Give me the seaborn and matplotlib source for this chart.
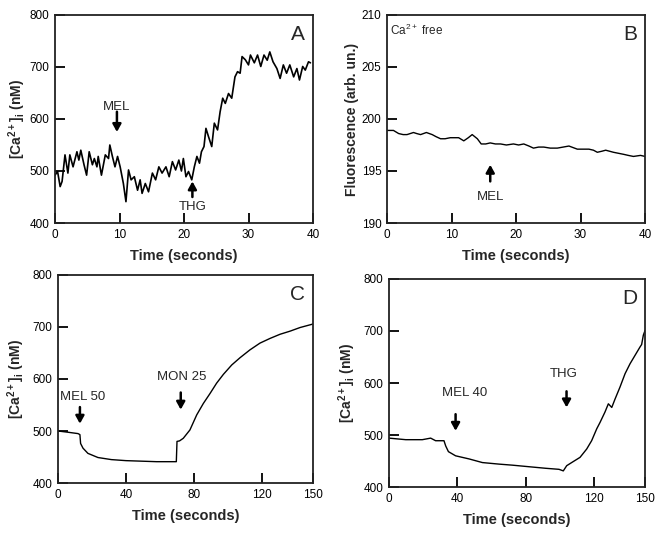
import matplotlib
matplotlib.use("Agg")
import matplotlib.pyplot as plt
import seaborn as sns

# =======================
# data
# =======================
# A - [Ca2+]i, MEL then THG
a_time = [0, 0.4, 0.8, 1.1, 1.55, 2.0, 2.3, 2.8, 3.4, 3.7, 4.0, 4.5, 4.9, 5.3, 5.8,
          6.1, 6.5, 6.7, 7.2, 7.8, 8.3, 8.5, 8.9, 9.3, 9.7, 10.1, 10.6, 11.0, 11.4,
          11.8, 12.3, 12.8, 13.2, 13.5, 14.0, 14.5, 15.1, 15.6, 16.1, 16.6, 17.2,
          17.7, 18.2, 18.7, 19.2, 19.6, 19.9, 20.3, 20.7, 21.2, 21.6, 22.0, 22.4,
          22.7, 23.1, 23.4, 23.8, 24.3, 24.7, 25.2, 25.6, 26.0, 26.4, 26.9, 27.4,
          27.9, 28.3, 28.7, 29.0, 29.5, 30.0, 30.3, 30.9, 31.4, 31.9, 32.4, 32.9,
          33.3, 33.8, 34.4, 34.9, 35.4, 35.9, 36.4, 37.0, 37.5, 37.9, 38.4, 38.8,
          39.3, 39.6]
a_ca = [492, 499, 470, 480, 531, 496, 531, 508, 537, 521, 540, 512, 492, 537, 512,
        524, 508, 528, 492, 531, 524, 550, 528, 508, 528, 508, 476, 441, 502,
        483, 489, 463, 483, 457, 476, 460, 496, 483, 508, 496, 508,
        489, 518, 502, 521, 500, 524, 489, 499, 483, 508, 528, 515,
        537, 547, 582, 566, 547, 592, 579, 614, 640, 630, 649, 640,
        681, 691, 688, 720, 714, 704, 723, 708, 723, 701, 723, 713,
        729, 710, 697, 678, 704, 688, 704, 681, 697, 675, 701, 694,
        710, 708]

# B - fluorescence in Ca2+ free medium
b_time = [0, 1.0, 1.8, 2.5, 3.1, 4.1, 4.6, 5.2, 6.1, 7.0, 7.6, 8.3, 9.0, 9.8, 10.5,
          11.1, 11.9, 12.6, 13.2, 14.0, 14.6, 15.3, 16.0, 16.8, 17.6, 18.5, 19.6,
          20.4, 21.2, 22.0, 22.7, 23.5, 24.3, 25.3, 26.4, 27.3, 28.2, 29.5, 30.4,
          31.3, 32.0, 32.6, 33.3, 33.9, 34.5, 35.1, 35.9, 36.7, 37.4, 38.2, 39.3, 40.0]
b_fluo = [198.9, 198.9, 198.6, 198.5, 198.5, 198.7, 198.6, 198.5, 198.7, 198.5, 198.3,
          198.1, 198.1, 198.2, 198.2, 198.2, 197.9, 198.2, 198.5, 198.1, 197.6, 197.6,
          197.7, 197.6, 197.6, 197.5, 197.6, 197.5, 197.6, 197.4, 197.2, 197.3, 197.3,
          197.2, 197.2, 197.3, 197.4, 197.1, 197.1, 197.1, 197.0, 196.8, 196.9, 197.0,
          196.9, 196.8, 196.7, 196.6, 196.5, 196.4, 196.5, 196.4]

# C - MEL 50 then MON 25
c_time = [0, 5, 11.8, 12.9, 13.3, 14.7, 17.6, 23.5, 31.4, 40, 49, 58, 69.6,
          70.0, 71.5, 73.7, 77.6, 81.6, 85.5, 89.4, 93.3, 97.3, 102.2, 107.1,
          112.9, 118.8, 124.7, 130.6, 136.5, 142.4, 149.2, 150.0]
c_ca = [500, 498, 495, 493, 476, 467, 457, 449, 445, 443, 442, 441, 441,
        480, 481, 486, 502, 531, 553, 572, 592, 609, 627, 641,
        656, 669, 678, 686, 692, 699, 705, 706]

# D - MEL 40 then THG
d_time = [0, 9.8, 19.5, 24.4, 27.3, 32.2, 33.2, 34.8, 39.0, 46.9, 54.7, 64.5, 72.3,
          82.0, 91.8, 99.6, 102.1, 104.1, 107.0, 111.9, 115.8, 118.7, 121.7, 123.6,
          126.5, 128.5, 130.5, 132.4, 135.3, 138.3, 141.2, 144.1, 147.0, 148.0,
          149.0, 150.0]
d_ca = [494, 491, 491, 494, 489, 489, 479, 468, 460, 454, 447, 444, 442,
        439, 436, 434, 431, 441, 447, 457, 473, 489, 512, 524,
        544, 560, 553, 569, 592, 618, 637, 653, 669, 674,
        692, 701]

# =======================
# style
# =======================
sns.set_style("ticks")
plt.rcParams["font.family"] = ["Liberation Sans", "DejaVu Sans"]
plt.rcParams["mathtext.fontset"] = "custom"
plt.rcParams["mathtext.rm"] = "Liberation Sans"
plt.rcParams["mathtext.bf"] = "Liberation Sans:bold"

ca_label = r"[Ca$^{\mathbf{2+}}$]$_{\mathbf{i}}$ (nM)"

fig = plt.figure(figsize=(6.65, 5.41), dpi=100)
ax_a = fig.add_axes([0.0827, 0.5878, 0.388, 0.3845])
ax_b = fig.add_axes([0.582, 0.5878, 0.388, 0.3845])
ax_c = fig.add_axes([0.0872, 0.1072, 0.3835, 0.3845])
ax_d = fig.add_axes([0.585, 0.0998, 0.385, 0.3845])


def arrow(ax, x, y_from, y_to):
    ax.annotate("", xy=(x, y_to), xytext=(x, y_from),
                arrowprops=dict(arrowstyle="-|>,head_length=0.45,head_width=0.25",
                                lw=1.8, color="black", shrinkA=0, shrinkB=0))


def style(ax, xlim, ylim, xticks, yticks, ylabel, letter, pad=4):
    ax.set_xlim(*xlim)
    ax.set_ylim(*ylim)
    ax.set_xticks(xticks)
    ax.set_yticks(yticks)
    ax.tick_params(direction="in", length=7, width=1.3, labelsize=8.5,
                   colors="black", pad=4)
    for s in ax.spines.values():
        s.set_linewidth(1.3)
        s.set_color("#222222")
    ax.set_xlabel("Time (seconds)", fontsize=10.5, fontweight="bold", labelpad=6)
    ax.set_ylabel(ylabel, fontsize=10, fontweight="bold", labelpad=pad)
    ax.text(0.97, 0.95, letter, transform=ax.transAxes, ha="right", va="top",
            fontsize=15)


# A
sns.lineplot(x=a_time, y=a_ca, ax=ax_a, color="black", lw=1.2)
style(ax_a, (0, 40), (400, 800), [0, 10, 20, 30, 40], [400, 500, 600, 700, 800],
      ca_label, "A", pad=1)
arrow(ax_a, 9.6, 614, 575)
ax_a.text(9.6, 624, "MEL", ha="center", va="center", fontsize=9.5)
arrow(ax_a, 21.3, 450, 480)
ax_a.text(21.3, 431, "THG", ha="center", va="center", fontsize=9.5)

# B
sns.lineplot(x=b_time, y=b_fluo, ax=ax_b, color="black", lw=1.0)
style(ax_b, (0, 40), (190, 210), [0, 10, 20, 30, 40], [190, 195, 200, 205, 210],
      "Fluorescence (arb. un.)", "B", pad=2)
arrow(ax_b, 16.0, 194.0, 195.6)
ax_b.text(16.0, 192.5, "MEL", ha="center", va="center", fontsize=9.5)
ax_b.text(0.5, 208.5, r"Ca$^{2+}$ free", ha="left", va="center", fontsize=8.5)

# C
sns.lineplot(x=c_time, y=c_ca, ax=ax_c, color="black", lw=1.0)
style(ax_c, (0, 150), (400, 800), [0, 40, 80, 120, 150], [400, 500, 600, 700, 800],
      ca_label, "C")
arrow(ax_c, 12.9, 546, 514)
ax_c.text(14.7, 565, "MEL 50", ha="center", va="center", fontsize=9.5)
arrow(ax_c, 72.2, 574, 541)
ax_c.text(72.9, 603, "MON 25", ha="center", va="center", fontsize=9.5)

# D
sns.lineplot(x=d_time, y=d_ca, ax=ax_d, color="black", lw=1.0)
style(ax_d, (0, 150), (400, 800), [0, 40, 80, 120, 150], [400, 500, 600, 700, 800],
      ca_label, "D")
arrow(ax_d, 39.0, 540, 508)
ax_d.text(44.0, 580, "MEL 40", ha="center", va="center", fontsize=9.5)
arrow(ax_d, 104.0, 584, 553)
ax_d.text(102.5, 618, "THG", ha="center", va="center", fontsize=9.5)

fig.savefig("out.png", dpi=100)
